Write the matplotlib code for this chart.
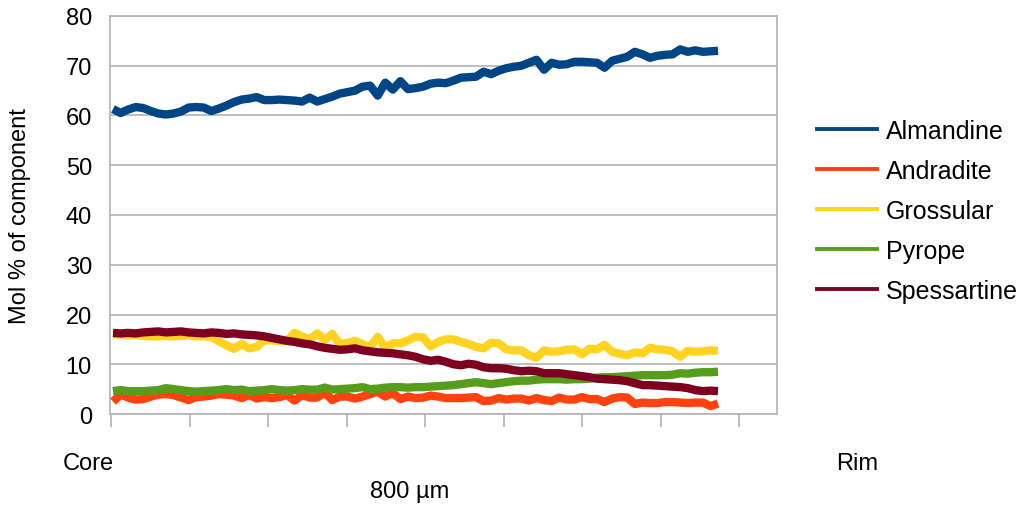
import matplotlib
matplotlib.use("Agg")
import matplotlib.pyplot as plt
from matplotlib.lines import Line2D
import numpy as np

plt.rcParams['font.family'] = ['Liberation Sans', 'DejaVu Sans']

# Garnet end-member profile, core to rim (mol %)
components = ["Almandine", "Andradite", "Grossular", "Pyrope", "Spessartine"]
colors = ["#004586", "#ff420e", "#ffd320", "#579d1c", "#7e0021"]

almandine = [61.3, 60.5, 61.2, 61.7, 61.5, 60.9, 60.4, 60.2, 60.4, 60.8,
             61.6, 61.7, 61.6, 60.9, 61.4, 62.0, 62.7, 63.2, 63.4, 63.7,
             63.1, 63.1, 63.2, 63.1, 63.0, 62.8, 63.6, 62.8, 63.3, 63.8,
             64.4, 64.7, 65.0, 65.8, 66.0, 64.0, 66.6, 65.2, 66.9, 65.3,
             65.5, 65.8, 66.4, 66.6, 66.5, 67.0, 67.6, 67.7, 67.8, 68.8,
             68.3, 69.0, 69.5, 69.8, 70.0, 70.6, 71.2, 69.2, 70.6, 70.2,
             70.3, 70.8, 70.8, 70.7, 70.6, 69.6, 71.0, 71.4, 71.8, 72.8,
             72.3, 71.6, 72.0, 72.2, 72.3, 73.3, 72.8, 73.1, 72.8, 72.9,
             73.0]
andradite = [2.5, 3.9, 3.3, 2.9, 3.0, 3.5, 3.9, 4.0, 3.8, 3.3,
             2.8, 3.4, 3.5, 3.7, 4.0, 3.9, 3.7, 3.2, 3.8, 3.1,
             3.4, 3.2, 3.4, 3.8, 2.7, 3.8, 3.3, 3.3, 4.3, 2.8,
             3.5, 3.5, 3.1, 3.5, 4.0, 4.5, 3.5, 4.2, 3.0, 3.5,
             3.2, 3.3, 3.7, 3.5, 3.2, 3.2, 3.2, 3.3, 3.4, 2.6,
             2.7, 3.2, 2.9, 3.1, 3.1, 2.7, 3.2, 2.8, 2.6, 3.3,
             2.9, 2.9, 3.4, 3.0, 3.0, 2.4, 3.1, 3.4, 3.3, 2.0,
             2.3, 2.2, 2.2, 2.4, 2.4, 2.3, 2.2, 2.3, 2.3, 1.6,
             2.1]
grossular = [15.9, 16.0, 15.8, 15.9, 15.7, 15.6, 15.6, 15.7, 15.6, 15.7,
             15.8, 15.6, 15.6, 15.5, 14.6, 13.8, 13.1, 14.1, 13.2, 13.5,
             14.8, 14.8, 14.7, 14.7, 16.3, 15.6, 15.0, 16.2, 14.9, 16.1,
             14.0, 14.3, 14.7, 14.0, 13.5, 15.5, 13.3, 14.2, 14.2, 14.8,
             15.5, 15.4, 13.6, 14.5, 15.0, 15.0, 14.5, 14.1, 13.5, 13.2,
             14.3, 14.2, 13.0, 12.8, 12.8, 11.8, 11.3, 12.8, 12.5, 12.6,
             12.9, 13.0, 12.0, 13.1, 13.0, 13.9, 12.5, 12.1, 11.8, 12.4,
             12.2, 13.3, 13.0, 12.9, 12.6, 11.5, 12.7, 12.5, 12.6, 12.8,
             12.7]
pyrope = [4.6, 4.8, 4.6, 4.6, 4.6, 4.7, 4.8, 5.2, 5.0, 4.8,
          4.6, 4.5, 4.6, 4.7, 4.8, 5.0, 4.8, 4.9, 4.6, 4.7,
          4.8, 5.0, 4.8, 4.7, 4.8, 5.0, 4.9, 4.9, 5.3, 4.9,
          5.0, 5.1, 5.2, 5.4, 5.0, 5.1, 5.3, 5.4, 5.4, 5.3,
          5.4, 5.4, 5.5, 5.6, 5.7, 5.8, 6.0, 6.2, 6.4, 6.2,
          6.0, 6.2, 6.4, 6.6, 6.7, 6.7, 6.9, 7.0, 7.0, 7.0,
          6.9, 7.0, 7.0, 7.1, 7.3, 7.4, 7.4, 7.5, 7.6, 7.7,
          7.8, 7.8, 7.8, 7.8, 7.9, 8.2, 8.1, 8.3, 8.4, 8.4,
          8.5]
spessartine = [16.3, 16.2, 16.3, 16.2, 16.4, 16.5, 16.6, 16.4, 16.5, 16.6,
               16.4, 16.3, 16.2, 16.4, 16.3, 16.1, 16.2, 16.0, 15.9, 15.8,
               15.6, 15.3, 15.0, 14.7, 14.5, 14.2, 14.0, 13.6, 13.3, 13.1,
               12.9, 13.0, 13.2, 12.8, 12.6, 12.4, 12.3, 12.2, 12.0, 11.8,
               11.5, 11.0, 10.7, 10.9, 10.5, 10.0, 9.8, 10.1, 9.9, 9.4,
               9.2, 9.2, 9.1, 8.8, 8.6, 8.7, 8.6, 8.2, 8.2, 8.2,
               8.0, 7.8, 7.6, 7.4, 7.1, 7.0, 6.9, 6.8, 6.6, 6.2,
               5.8, 5.8, 5.7, 5.6, 5.5, 5.4, 5.2, 4.8, 4.6, 4.7,
               4.6]

series = [almandine, andradite, grossular, pyrope, spessartine]
yticks = list(range(0, 81, 10))
end_labels = ["Core", "Rim"]
traverse_label = "800 µm"

W, H = 1027, 506
fig = plt.figure(figsize=(W / 100, H / 100), dpi=100)
ax_l, ax_r, ax_t, ax_b = 110, 777, 17, 415
ax = fig.add_axes([ax_l / W, 1 - ax_b / H, (ax_r - ax_l) / W, (ax_b - ax_t) / H])

x = np.arange(len(almandine))
step_px = 7.5625  # spacing of samples in pixels
x0_px = 113
for vals, c in zip(series, colors):
    ax.plot(x, vals, color=c, lw=6.0, solid_joinstyle='round',
            solid_capstyle='butt', zorder=3)

ax.set_xlim((ax_l - x0_px) / step_px, (ax_r - x0_px) / step_px)
ax.set_ylim(0, 80)

fs = 17
grid_c = "#b3b3b3"
ax.set_yticks(yticks)
ax.set_yticklabels([str(v) for v in yticks], fontsize=fs)
ax.yaxis.grid(True, color=grid_c, lw=1.2, zorder=0)
ax.tick_params(axis='y', length=0, pad=13)

# category tick marks every 78.5 px along the x axis
tick_pos = [((111 + 78.5 * k) - x0_px) / step_px for k in range(9)]
ax.set_xticks(tick_pos)
ax.set_xticklabels([])
ax.tick_params(axis='x', direction='out', length=9, width=1.2, color=grid_c)

for s in ax.spines.values():
    s.set_color(grid_c)
    s.set_linewidth(1.2)

fig.text(20 / W, 1 - 216 / H, "Mol % of component", rotation=90,
         ha='center', va='center', fontsize=fs)
fig.text(88 / W, 1 - 464 / H, end_labels[0], ha='center', va='center', fontsize=fs)
fig.text(857 / W, 1 - 464 / H, end_labels[1], ha='center', va='center', fontsize=fs)
fig.text(410 / W, 1 - 492 / H, traverse_label, ha='center', va='center', fontsize=fs)

handles = [Line2D([], [], color=c, lw=2.8) for c in colors]
fig.legend(handles, components, loc='upper left',
           bbox_to_anchor=(817 / W, 1 - 120 / H), frameon=False,
           fontsize=18, handlelength=2.4, handletextpad=0.35,
           labelspacing=0.64, borderpad=0, borderaxespad=0)

fig.savefig("out.png", dpi=100)
